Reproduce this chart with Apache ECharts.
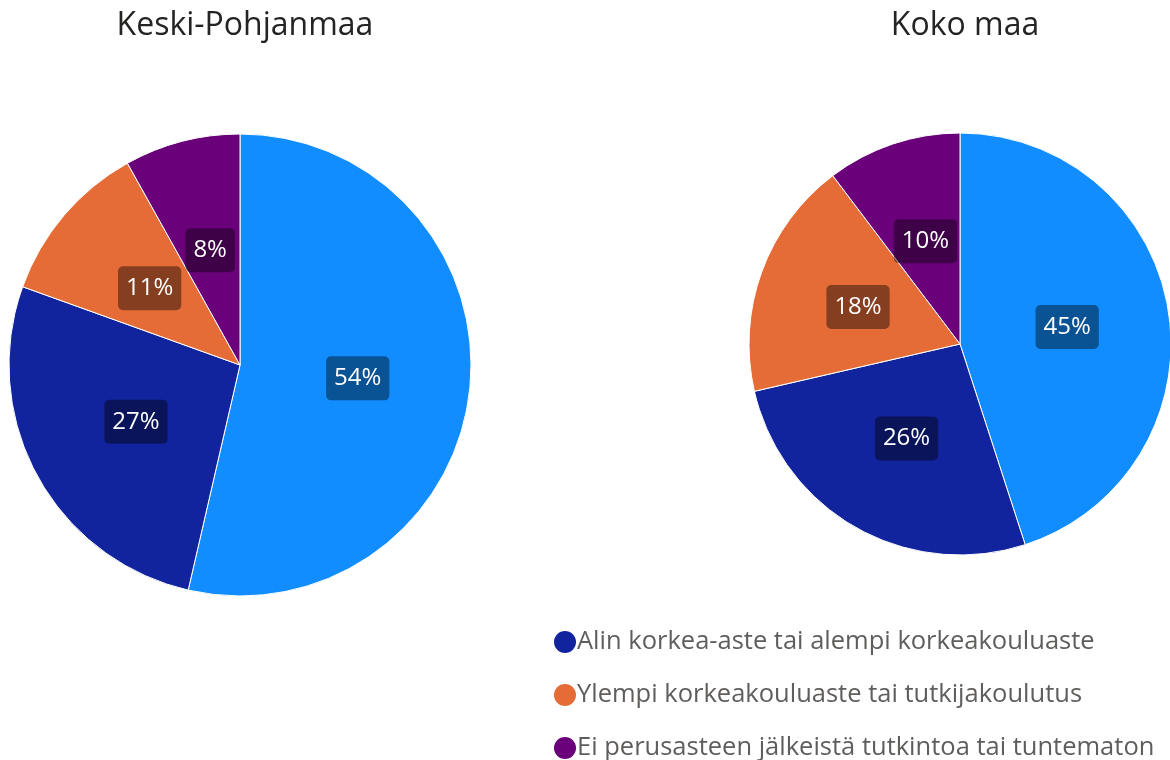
<!DOCTYPE html>
<html><head><meta charset="utf-8">
<script src="https://cdn.jsdelivr.net/npm/echarts@6/dist/echarts.min.js"></script>
<style>html,body{margin:0;padding:0;background:#fff}#c{width:1170px;height:760px}</style>
</head><body><div id="c"></div>
<script>
const categories = ["Toisen asteen tutkinto", "Alin korkea-aste tai alempi korkeakouluaste", "Ylempi korkeakouluaste tai tutkijakoulutus", "Ei perusasteen jälkeistä tutkintoa tai tuntematon"];
const legendItems = ["Alin korkea-aste tai alempi korkeakouluaste", "Ylempi korkeakouluaste tai tutkijakoulutus", "Ei perusasteen jälkeistä tutkintoa tai tuntematon"];
const titles = ["Keski-Pohjanmaa", "Koko maa"];
const keskiPohjanmaa = [53.6, 26.9, 11.4, 8.1];
const kokoMaa = [45.0, 26.4, 18.3, 10.3];
const colors = ["#118DFF", "#12239E", "#E66C37", "#6B007B"];

const font = "'Open Sans', 'Noto Sans', sans-serif";
function mk(vals){ return categories.map((n,i)=>({name:n, value:vals[i], itemStyle:{color:colors[i]}})); }
const label = {
  show:true, position:'inside', color:'#fff', fontFamily:font, fontSize:24, lineHeight:30,
  backgroundColor:'rgba(0,0,0,0.42)', borderRadius:5, padding:[8,8,6,8],
  formatter: p => Math.round(p.percent) + '%'
};
const chart = echarts.init(document.getElementById('c'));
chart.setOption({
  animation:false,
  title:[
    {text:titles[0], left:240, top:5, textAlign:'center', textStyle:{fontFamily:font, fontSize:32, fontWeight:'normal', color:'#252423'}},
    {text:titles[1], left:960, top:5, textAlign:'center', textStyle:{fontFamily:font, fontSize:32, fontWeight:'normal', color:'#252423'}}
  ],
  legend:{
    data:legendItems, orient:'vertical', left:549, top:622, height:220, itemGap:23, icon:'circle', itemWidth:22, itemHeight:22,
    itemStyle:{borderWidth:0},
    textStyle:{fontFamily:font, fontSize:25.5, lineHeight:30, color:'#605E5C', padding:[0,0,0,-4]}
  },
  series:[
    {type:'pie', center:[240,365], radius:[0,231], startAngle:90, clockwise:true, data:mk(keskiPohjanmaa),
     label:label, labelLine:{show:false}, itemStyle:{borderColor:'#fff', borderWidth:1}, emphasis:{disabled:true}},
    {type:'pie', center:[960,344], radius:[0,211], startAngle:90, clockwise:true, data:mk(kokoMaa),
     label:label, labelLine:{show:false}, itemStyle:{borderColor:'#fff', borderWidth:1}, emphasis:{disabled:true}}
  ]
});
</script></body></html>
